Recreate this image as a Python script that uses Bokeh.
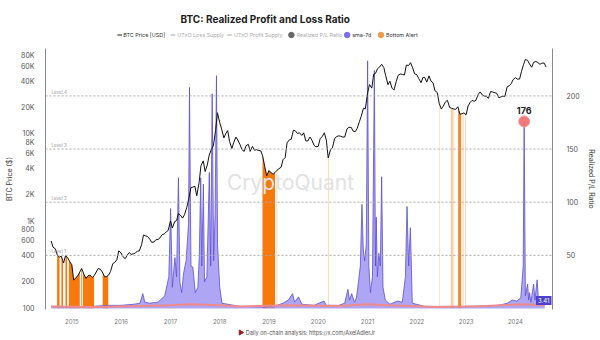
import numpy as np
import pandas as pd
from bokeh.plotting import figure
from bokeh.layouts import column
from bokeh.models import (Range1d, LinearAxis, LinearScale, FixedTicker, Label, Span,
                          DatetimeTickFormatter)
from bokeh.core.properties import value
from bokeh.embed import file_html
from bokeh.resources import INLINE

# ---------------- data ----------------
# BTC price, semi-monthly (1st and 15th) from Aug 2014
price_2014 = [590, 500, 480, 410, 385, 395, 330, 400, 380, 345]
price_2015 = [315, 210, 225, 235, 260, 285, 245, 220, 235, 240, 225, 235,
              260, 285, 280, 260, 230, 230, 240, 265, 325, 335, 360, 455]
price_2016 = [430, 390, 370, 405, 435, 415, 420, 430, 450, 455, 535, 690,
              675, 665, 620, 570, 575, 610, 615, 640, 700, 710, 750, 780]
price_2017 = [1000, 830, 985, 1010, 1220, 1170, 1080, 1180, 1420, 1750, 2400, 2450,
              2500, 1950, 2750, 4300, 4900, 3700, 4400, 5700, 6700, 7300, 10900, 17500]
price_2018 = [13500, 11400, 9000, 10100, 10900, 8200, 6800, 8000, 9200, 8500, 7500, 6600,
              6300, 7300, 7600, 6300, 7200, 6500, 6600, 6450, 6400, 5600, 4200, 3300]
price_2019 = [3800, 3600, 3450, 3600, 3820, 3980, 4140, 5050, 5350, 7900, 8550, 8700,
              11000, 10850, 10100, 10300, 9600, 10300, 8300, 8300, 9200, 8500, 7400, 7100]
price_2020 = [7200, 8800, 9400, 10300, 8500, 5300, 6600, 6900, 8800, 9300, 9500, 9400,
              9200, 9200, 11400, 11900, 11900, 10800, 10600, 11500, 13800, 16000, 19700, 19400]
price_2021 = [29400, 36800, 33500, 48500, 49600, 56000, 58900, 63000, 57700, 46500, 36700, 40200,
              33500, 31800, 39900, 47000, 48800, 48000, 47500, 61500, 61000, 65600, 57200, 48900]
price_2022 = [47700, 43100, 38700, 44500, 44400, 39300, 46300, 40500, 38500, 31300, 29800, 22500,
              19300, 20800, 23300, 24300, 20100, 19700, 19300, 19100, 20500, 16900, 17000, 17400]
price_2023 = [16600, 20900, 23100, 24300, 23600, 24400, 28500, 30300, 28000, 27200, 27000, 25600,
              30600, 30300, 29700, 29300, 25900, 26600, 27000, 27000, 34700, 35600, 37700, 42000]
price_2024 = [44200, 42500, 42600, 51900, 62400, 71400, 69700, 63400, 58200, 66200, 67800, 66000,
              62900, 64800, 65000, 58700]
price_vals = (price_2014 + price_2015 + price_2016 + price_2017 + price_2018 + price_2019 +
              price_2020 + price_2021 + price_2022 + price_2023 + price_2024)
price_dates = pd.date_range("2014-08-01", periods=len(price_vals), freq="SMS")

# Realized P/L Ratio, sma-7d
sma_dates = ["2014-08-01", "2014-12-01", "2015-06-01", "2015-10-01", "2016-01-01", "2016-04-01",
             "2016-05-20", "2016-06-10", "2016-06-25", "2016-08-01", "2016-10-01", "2016-11-20",
             "2016-12-20", "2017-01-02", "2017-01-15", "2017-02-03", "2017-02-15", "2017-03-01",
             "2017-03-12", "2017-03-25", "2017-04-08", "2017-04-27", "2017-05-15", "2017-05-22",
             "2017-06-02", "2017-06-16", "2017-07-04", "2017-07-23", "2017-08-03", "2017-08-13",
             "2017-08-21", "2017-09-02", "2017-09-10", "2017-09-28", "2017-10-16", "2017-10-26",
             "2017-11-06", "2017-11-17", "2017-11-28", "2017-12-08", "2017-12-16", "2018-01-01",
             "2018-01-18", "2018-06-01", "2018-12-01", "2019-03-01", "2019-04-15", "2019-05-25",
             "2019-06-25", "2019-07-10", "2019-08-08", "2019-09-01", "2019-12-01", "2020-02-12",
             "2020-03-01", "2020-06-01", "2020-07-15", "2020-08-08", "2020-08-20", "2020-09-05",
             "2020-09-25", "2020-10-10", "2020-10-25", "2020-11-08", "2020-11-20", "2020-11-30",
             "2020-12-10", "2020-12-22", "2021-01-01", "2021-01-10", "2021-01-22", "2021-02-06",
             "2021-02-20", "2021-02-28", "2021-03-06", "2021-03-14", "2021-03-25", "2021-04-05",
             "2021-04-15", "2021-04-25", "2021-05-12", "2021-06-15", "2021-08-10", "2021-09-15",
             "2021-10-08", "2021-10-20", "2021-11-01", "2021-11-14", "2021-11-28", "2022-03-01",
             "2022-09-01", "2023-03-01", "2023-09-01", "2023-11-01", "2023-12-10", "2024-01-10",
             "2024-02-10", "2024-02-28", "2024-03-06", "2024-03-15", "2024-04-01", "2024-04-08",
             "2024-04-15", "2024-04-25", "2024-05-15", "2024-05-25", "2024-06-10", "2024-06-20",
             "2024-07-05", "2024-07-20", "2024-08-05"]
sma_vals = [2, 1.5, 2, 3, 3, 4,
            5, 14, 6, 5, 6, 12,
            30, 94, 20, 48, 30, 123,
            25, 15, 33, 45, 80, 208,
            40, 39, 15, 20, 50, 123,
            40, 117, 25, 30, 128, 40,
            202, 45, 90, 219, 60, 20,
            5, 2, 1.5, 3, 5, 8,
            14, 6, 11, 4, 3, 7,
            3, 3, 5, 18, 8, 14,
            6, 10, 25, 40, 98, 55,
            45, 60, 233, 40, 15, 30,
            224, 40, 86, 30, 52, 40,
            124, 20, 8, 4, 7, 6,
            30, 96, 40, 76, 5, 2,
            2, 2, 3, 5, 8, 7,
            10, 40, 176, 12, 23, 8,
            15, 6, 23, 8, 27, 8,
            10, 5, 3.41]

# baseline realized P/L series (pink)
pl_dates = ["2014-08-01", "2015-06-01", "2016-06-01", "2017-01-01", "2017-06-01", "2018-01-01",
            "2018-06-01", "2019-06-01", "2020-06-01", "2021-01-01", "2021-06-01", "2022-06-01",
            "2023-01-01", "2023-06-01", "2024-03-01", "2024-08-05"]
pl_vals = [2, 1.5, 2.5, 3, 4, 3, 2, 3, 2.5, 4, 3, 1.5, 2, 2.5, 4, 3]

# Bottom alerts
alert_start = ["2014-09-14", "2014-10-16", "2014-11-15", "2014-12-10", "2015-03-12", "2015-03-24",
               "2015-08-18", "2018-11-14", "2019-02-25", "2020-03-14", "2022-06-14", "2022-09-10",
               "2022-09-29", "2022-11-03", "2022-12-07", "2022-12-25"]
alert_end = ["2014-10-02", "2014-10-28", "2014-11-27", "2015-03-01", "2015-03-17", "2015-06-15",
             "2015-09-28", "2019-02-15", "2019-03-04", "2020-03-21", "2022-06-20", "2022-09-25",
             "2022-10-05", "2022-11-25", "2022-12-13", "2022-12-31"]
alert_strength = [1, 1, 1, 1, 1, 1, 1, 1, 0.3, 0.3, 0.25, 0.4, 0.35, 0.9, 0.4, 0.35]

level_vals = [50, 100, 150, 200]
level_names = ["Level 1", "Level 2", "Level 3", "Level 4"]
price_ticks = [100, 200, 400, 600, 800, 1000, 2000, 4000, 6000, 8000, 10000, 20000, 40000, 60000, 80000]
price_tick_text = ["100", "200", "400", "600", "800", "1K", "2K", "4K", "6K", "8K",
                   "10K", "20K", "40K", "60K", "80K"]
pl_ticks = [50, 100, 150, 200]
years = list(range(2015, 2025))

title_text = "BTC: Realized Profit and Loss Ratio"
legend_names = ["BTC Price [USD]", "UTxO Loss Supply", "UTxO Profit Supply",
                "Realized P/L Ratio", "sma-7d", "Bottom Alert"]
footer_text = "Daily on-chain analysis: https://x.com/AxelAdlerJr"

# ---------------- layout ----------------
W = 600
HEAD_H = 48
FL, FW, FH = 45, 507, 261
BOT = 13
FOOT_H = 340 - HEAD_H - FH - BOT
FONT = "Inter"


def blank_fig(h, y0, y1):
    f = figure(width=W, height=h, x_range=Range1d(0, W), y_range=Range1d(y1, y0),
               output_backend="svg", toolbar_location=None, min_border=0,
               x_axis_location=None, y_axis_location=None)
    f.outline_line_color = None
    f.grid.grid_line_color = None
    f.background_fill_color = "white"
    f.border_fill_color = "white"
    return f


# header: title + legend
head = blank_fig(HEAD_H, 0, HEAD_H)
head.text(x=[260], y=[18], text=[title_text], text_font=value(FONT), text_font_size="10px",
          text_font_style="bold", text_color="#222222", text_align="center",
          text_baseline="middle")
LY = 34.5
leg_text_x = [92, 156, 223, 297, 363, 403]
leg_text_c = ["#333333", "#aaaaaa", "#aaaaaa", "#aaaaaa", "#333333", "#333333"]
head.text(x=leg_text_x, y=[LY] * 6, text=legend_names, text_font=value(FONT),
          text_font_size="5.4px", text_color=leg_text_c, text_baseline="middle")
head.segment(x0=[85, 148, 215], y0=[LY] * 3, x1=[90.5, 153.5, 220.5], y1=[LY] * 3,
             line_color=["#222222", "#aaaaaa", "#aaaaaa"], line_width=1.2)
head.scatter(x=[291, 357, 397], y=[LY] * 3, size=5.5,
             color=["#666666", "#7a6cf0", "#f59a4a"])

# main chart
p = figure(frame_width=FW, frame_height=FH, x_axis_type="datetime", y_axis_type="log",
           x_range=Range1d(pd.Timestamp("2014-06-20"), pd.Timestamp("2024-10-02")),
           y_range=Range1d(96.6, 95500),
           output_backend="svg", toolbar_location=None,
           min_border_left=FL, min_border_right=W - FL - FW, min_border_top=0,
           min_border_bottom=BOT)
p.extra_y_ranges = {"pl": Range1d(-0.9, 244.6)}
p.extra_y_scales = {"pl": LinearScale()}
p.outline_line_color = None
p.grid.grid_line_color = None
p.background_fill_color = "white"
p.border_fill_color = "white"

ya = p.yaxis[0]
ya.ticker = FixedTicker(ticks=price_ticks)
ya.major_label_overrides = {t: s for t, s in zip(price_ticks, price_tick_text)}
ya.axis_label = "BTC Price ($)"

ra = LinearAxis(y_range_name="pl", ticker=FixedTicker(ticks=pl_ticks),
                axis_label="Realized P/L Ratio")
p.add_layout(ra, "right")

for ax in [ya, ra]:
    ax.axis_line_color = "#8a8a8a"
    ax.major_tick_line_color = None
    ax.minor_tick_line_color = None
    ax.major_label_text_font = FONT
    ax.major_label_text_font_size = "7px"
    ax.major_label_text_color = "#555555"
    ax.axis_label_text_font = FONT
    ax.axis_label_text_font_size = "7px"
    ax.axis_label_text_font_style = "normal"
    ax.axis_label_text_color = "#444444"
    ax.major_label_standoff = 5
    ax.axis_label_standoff = 4
ra.major_label_standoff = 8

xa = p.xaxis[0]
xa.ticker = FixedTicker(ticks=[pd.Timestamp(f"{y}-01-01").value / 1e6 for y in years])
xa.formatter = DatetimeTickFormatter(years="%Y", months="%Y", days="%Y", hours="%Y")
xa.axis_line_color = None
xa.major_tick_line_color = None
xa.minor_tick_line_color = None
xa.major_label_text_font = FONT
xa.major_label_text_font_size = "6px"
xa.major_label_text_color = "#777777"
xa.major_label_standoff = 3

# level lines
for v, n in zip(level_vals, level_names):
    p.add_layout(Span(location=v, dimension="width", y_range_name="pl",
                      line_color="#aaaaaa", line_dash="2 2", line_width=1))
    p.add_layout(Label(x=6, y=v, x_units="screen", y_range_name="pl", text=n,
                       text_font=FONT, text_font_size="4.5px", text_color="#999999",
                       y_offset=1))

# watermark
p.add_layout(Label(x=290 - FL, y=FH - (182 - HEAD_H), x_units="screen", y_units="screen",
                   text="CryptoQuant", text_font=FONT, text_font_size="21px",
                   text_color="#e2e2e2", text_align="center", text_baseline="middle"))

# bottom alerts following price
px = price_dates.values.astype("datetime64[ms]").astype(np.int64).astype(float)
lp = np.log10(np.array(price_vals, dtype=float))
for s, e, a in zip(alert_start, alert_end, alert_strength):
    s_ms = pd.Timestamp(s).value / 1e6
    e_ms = pd.Timestamp(e).value / 1e6
    inner = px[(px > s_ms) & (px < e_ms)]
    xs = np.concatenate([[s_ms], inner, [e_ms]])
    tops = 10 ** np.interp(xs, px, lp)
    p.varea(x=xs, y1=100, y2=tops, fill_color="#f7780d", fill_alpha=a)

# sma-7d area
sx = pd.to_datetime(sma_dates)
p.varea(x=sx, y1=0, y2=sma_vals, y_range_name="pl", fill_color="#9b8ef3", fill_alpha=0.8)
p.line(x=sx, y=sma_vals, y_range_name="pl", line_color="#5a4fd0", line_width=0.8)

# pink baseline
p.line(x=pd.to_datetime(pl_dates), y=pl_vals, y_range_name="pl", line_color="#f08a8a",
       line_width=2)

# price
p.line(x=price_dates, y=price_vals, line_color="#111111", line_width=1)

# peak marker
imax = int(np.argmax(sma_vals[90:])) + 90
peak_x = [pd.Timestamp(sma_dates[imax])]
peak_y = [sma_vals[imax]]
p.scatter(x=peak_x, y=peak_y, y_range_name="pl", size=11, fill_color="#f07272",
          line_color="#f4a0a0", fill_alpha=0.95)
p.text(x=peak_x, y=peak_y, text=[f"{sma_vals[imax]:.0f}"], y_range_name="pl", y_offset=-7,
       text_align="center", text_baseline="bottom", text_font=value(FONT), text_font_size="9px",
       text_font_style="bold", text_color="#222222")

# current value box
p.add_layout(Label(x=FW - 1, y=sma_vals[-1], x_units="screen", y_range_name="pl",
                   text=f"{sma_vals[-1]:.2f}", text_font=FONT, text_font_size="6px",
                   text_color="white", background_fill_color="#4b40d0", text_baseline="bottom",
                   text_align="right", padding=2))

# footer
foot = blank_fig(FOOT_H, HEAD_H + FH + BOT, 340)
FY = 328
foot.scatter(x=[231], y=[FY], marker="triangle", angle=-np.pi / 2, size=5, color="#9b1c1c")
foot.text(x=[237], y=[FY], text=[footer_text], text_font=value(FONT), text_font_size="5.5px",
          text_color="#555555", text_baseline="middle")

layout = column(head, p, foot, spacing=0)
open("out.html", "w").write(file_html(layout, INLINE))
